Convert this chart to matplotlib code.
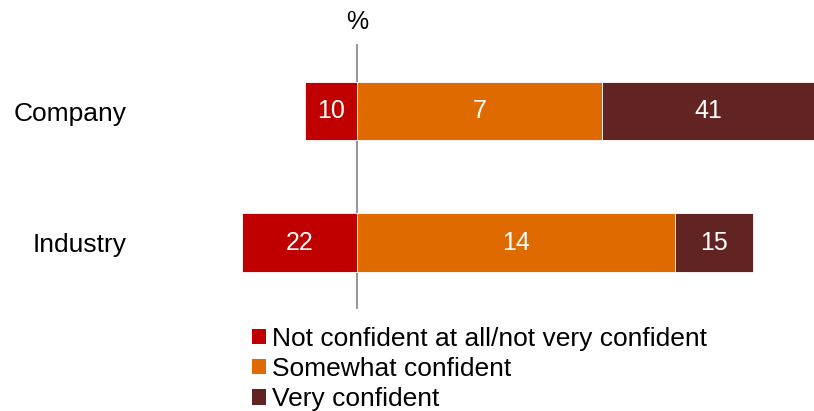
import matplotlib.pyplot as plt
from matplotlib.patches import Patch

plt.rcParams["font.family"] = ["Liberation Sans", "DejaVu Sans"]

categories = ["Company", "Industry"]
series_names = [
    "Not confident at all/not very confident",
    "Somewhat confident",
    "Very confident",
]
not_confident = [10, 22]
somewhat = [47, 61]
very = [41, 15]
# text printed on the bars, as shown in the source chart
not_confident_labels = ["10", "22"]
somewhat_labels = ["7", "14"]
very_labels = ["41", "15"]

colors = ["#C00000", "#DE6A00", "#622423"]

fig = plt.figure(figsize=(8.14, 4.11), dpi=100)
# axes from x=200px to the right edge, full height
ax = fig.add_axes([200 / 814, 0, 1 - 200 / 814, 1])

ypos = list(range(len(categories)))
bar_h = 0.443

segments = [
    ([-v for v in not_confident], [0] * len(categories), not_confident_labels),
    (somewhat, [0] * len(categories), somewhat_labels),
    (very, somewhat, very_labels),
]

for (widths, lefts, labels), color in zip(segments, colors):
    bars = ax.barh(ypos, widths, left=lefts, height=bar_h, color=color,
                   edgecolor="white", linewidth=0.6)
    ax.bar_label(bars, labels=labels, label_type="center", color="white",
                 fontsize=18)

# zero line
ax.plot([0, 0], [-0.502, 1.498], color="#8C8C8C", linewidth=1.3, zorder=0.5)
ax.text(0, -0.675, "%", ha="center", va="center", fontsize=18)

ax.set_xlim((200 - 357) / 5.21, (814 - 357) / 5.21)
ax.set_ylim((411 - 111) / 131.5, -111 / 131.5)

ax.set_yticks(ypos)
ax.set_yticklabels(categories, fontsize=19)
ax.tick_params(axis="y", length=0, pad=53)
ax.set_xticks([])
for s in ax.spines.values():
    s.set_visible(False)

handles = [Patch(facecolor=c, edgecolor="none") for c in colors]
fig.legend(handles, series_names, loc="upper left",
           bbox_to_anchor=(252 / 814, 1 - 327 / 411), frameon=False,
           fontsize=19, borderpad=0, borderaxespad=0,
           handlelength=0.53, handleheight=0.53, handletextpad=0.22,
           labelspacing=0.23)

fig.savefig("out.png", dpi=100)
